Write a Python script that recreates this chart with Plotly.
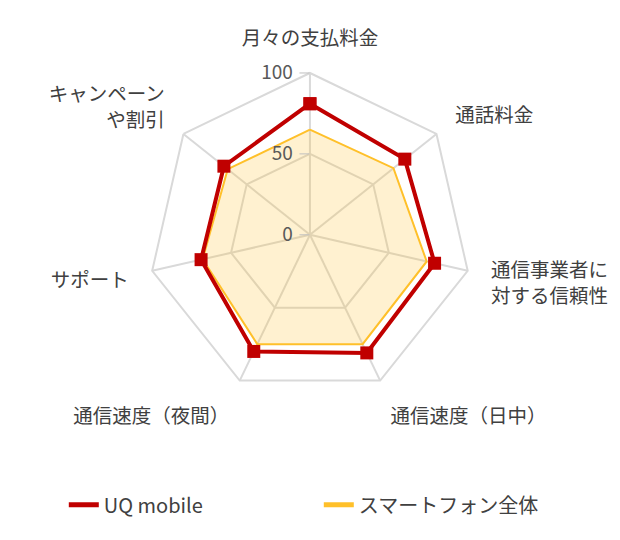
import plotly.graph_objects as go

categories = ['月々の支払料金', '通話料金', '通信事業者に<br>対する信頼性', '通信速度（日中）',
              '通信速度（夜間）', 'サポート', 'キャンペーン<br>や割引']
uq_mobile = [81, 75, 79, 81, 80, 69, 68]
smartphone_all = [65, 66, 74, 75, 75, 68, 65]
series_names = ['UQ mobile', 'スマートフォン全体']

red = '#C00000'
orange = '#FFC02A'
text_color = '#404040'

# close the polygons
cats = categories + categories[:1]
fig = go.Figure()
fig.add_trace(go.Scatterpolar(
    r=smartphone_all + smartphone_all[:1], theta=cats, mode='lines',
    line=dict(color=orange, width=2), fill='toself', fillcolor='rgba(255,192,42,0.22)',
    showlegend=False))
fig.add_trace(go.Scatterpolar(
    r=uq_mobile + uq_mobile[:1], theta=cats, mode='lines+markers',
    line=dict(color=red, width=4), marker=dict(symbol='square', size=13, color=red),
    showlegend=False))

# legend entries showing only the line
fig.add_trace(go.Scatterpolar(r=[None], theta=[None], mode='lines', name=series_names[0],
                              line=dict(color=red, width=5)))
fig.add_trace(go.Scatterpolar(r=[None], theta=[None], mode='lines', name=series_names[1],
                              line=dict(color=orange, width=5)))

fig.update_layout(
    width=620, height=540,
    margin=dict(l=0, r=0, t=0, b=0),
    paper_bgcolor='white',
    font=dict(family='Noto Sans CJK JP', color=text_color, size=18),
    polar=dict(
        domain=dict(x=[0.226, 0.748], y=[0.280, 0.880]),
        bgcolor='white',
        gridshape='linear',
        radialaxis=dict(range=[0, 100], dtick=50, angle=90, tickangle=90,
                        side='counterclockwise', ticks='outside', ticklen=10,
                        tickcolor='#bfbfbf', showline=False,
                        gridcolor='#d9d9d9', gridwidth=1.5,
                        tickfont=dict(size=19, color='#595959')),
        angularaxis=dict(direction='clockwise', rotation=90,
                         linecolor='#d9d9d9', linewidth=2,
                         gridcolor='#d9d9d9', gridwidth=1.5,
                         ticks='outside', ticklen=19, tickcolor='rgba(0,0,0,0)',
                         tickfont=dict(size=19.5, color=text_color)),
    ),
    legend=dict(orientation='h', x=0.09, y=0.08, xanchor='left', yanchor='middle',
                entrywidth=210, entrywidthmode='pixels',
                font=dict(size=20, color=text_color)),
)

fig.write_html('out.html')
